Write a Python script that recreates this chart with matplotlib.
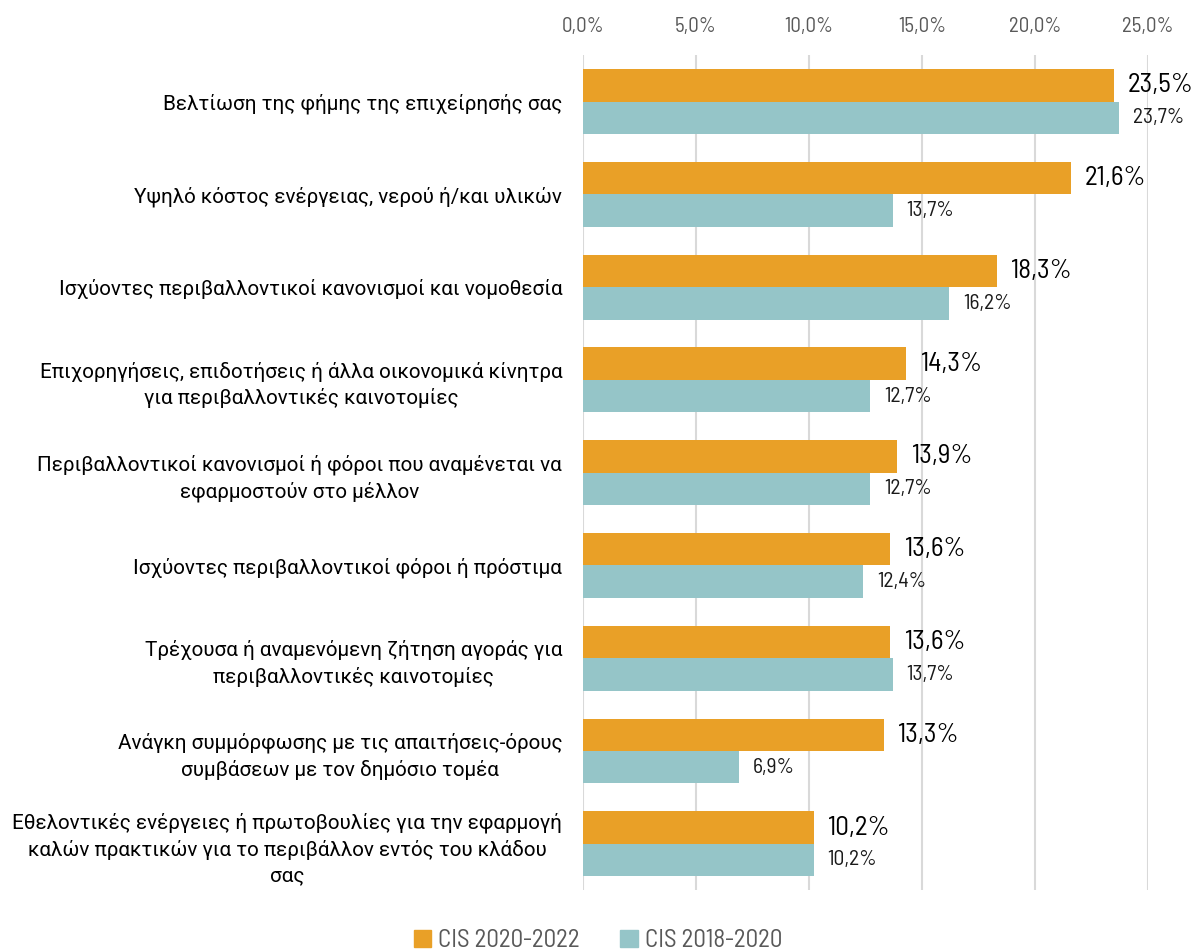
import matplotlib
matplotlib.use("Agg")
import matplotlib.pyplot as plt
from matplotlib.ticker import FuncFormatter, MultipleLocator
from matplotlib.patches import Patch
import numpy as np

categories = [
    "Βελτίωση της φήμης της επιχείρησής σας",
    "Υψηλό κόστος ενέργειας, νερού ή/και υλικών",
    "Ισχύοντες περιβαλλοντικοί κανονισμοί και νομοθεσία",
    "Επιχορηγήσεις, επιδοτήσεις ή άλλα οικονομικά κίνητρα\nγια περιβαλλοντικές καινοτομίες",
    "Περιβαλλοντικοί κανονισμοί ή φόροι που αναμένεται να\nεφαρμοστούν στο μέλλον",
    "Ισχύοντες περιβαλλοντικοί φόροι ή πρόστιμα",
    "Τρέχουσα ή αναμενόμενη ζήτηση αγοράς για\nπεριβαλλοντικές καινοτομίες",
    "Ανάγκη συμμόρφωσης με τις απαιτήσεις-όρους\nσυμβάσεων με τον δημόσιο τομέα",
    "Εθελοντικές ενέργειες ή πρωτοβουλίες για την εφαρμογή\nκαλών πρακτικών για το περιβάλλον εντός του κλάδου\nσας",
]
series_names = ["CIS 2020-2022", "CIS 2018-2020"]
cis_2020_2022 = [23.5, 21.6, 18.3, 14.3, 13.9, 13.6, 13.6, 13.3, 10.2]
cis_2018_2020 = [23.7, 13.7, 16.2, 12.7, 12.7, 12.4, 13.7, 6.9, 10.2]

c_orange = "#E9A027"
c_teal = "#95C5C8"
num_font = ["Barlow Semi Condensed", "Barlow Condensed", "DejaVu Sans"]
lab_font = ["Roboto", "DejaVu Sans"]

fig = plt.figure(figsize=(11.96, 9.52), dpi=100)
ax = fig.add_axes([0.4875, 0.065, 0.9599 - 0.4875, 0.942 - 0.065])

n = len(categories)
y = np.arange(n)
h = 0.35
ax.barh(y - h / 2, cis_2020_2022, height=h, color=c_orange, zorder=3)
ax.barh(y + h / 2, cis_2018_2020, height=h, color=c_teal, zorder=3)

for yi, v in zip(y, cis_2020_2022):
    ax.annotate(f"{v:.1f}%".replace(".", ","), (v, yi - h / 2), xytext=(10, 0),
                textcoords="offset points", va="center", ha="left",
                fontsize=19.5, family=num_font, color="#000000")
for yi, v in zip(y, cis_2018_2020):
    ax.annotate(f"{v:.1f}%".replace(".", ","), (v, yi + h / 2), xytext=(10, 0),
                textcoords="offset points", va="center", ha="left",
                fontsize=15.5, family=num_font, color="#1A1A1A")

ax.set_xlim(0, 25)
ax.set_ylim(n - 0.5, -0.5)
ax.xaxis.set_major_locator(MultipleLocator(5))
ax.xaxis.set_major_formatter(FuncFormatter(lambda v, p: f"{v:.1f}%".replace(".", ",")))
ax.xaxis.tick_top()
ax.tick_params(axis="x", length=0, pad=14, labelsize=15, labelcolor="#595959")
for lab in ax.get_xticklabels():
    lab.set_family(num_font)
ax.set_yticks(y)
ax.set_yticklabels(categories, fontsize=14.9, family=lab_font, color="#000000",
                   multialignment="center", linespacing=1.4)
ax.tick_params(axis="y", length=0, pad=15)
ax.grid(axis="x", color="#D9D9D9", linewidth=1.5, zorder=0)
for s in ax.spines.values():
    s.set_visible(False)

handles = [Patch(color=c_orange), Patch(color=c_teal)]
fig.legend(handles, series_names, loc="center", bbox_to_anchor=(0.5, 0.012),
           ncol=2, frameon=False, handlelength=0.7, handleheight=0.7,
           handletextpad=0.3, columnspacing=1.6,
           prop={"family": num_font, "size": 18}, labelcolor="#595959")

fig.savefig("out.png", dpi=100)
